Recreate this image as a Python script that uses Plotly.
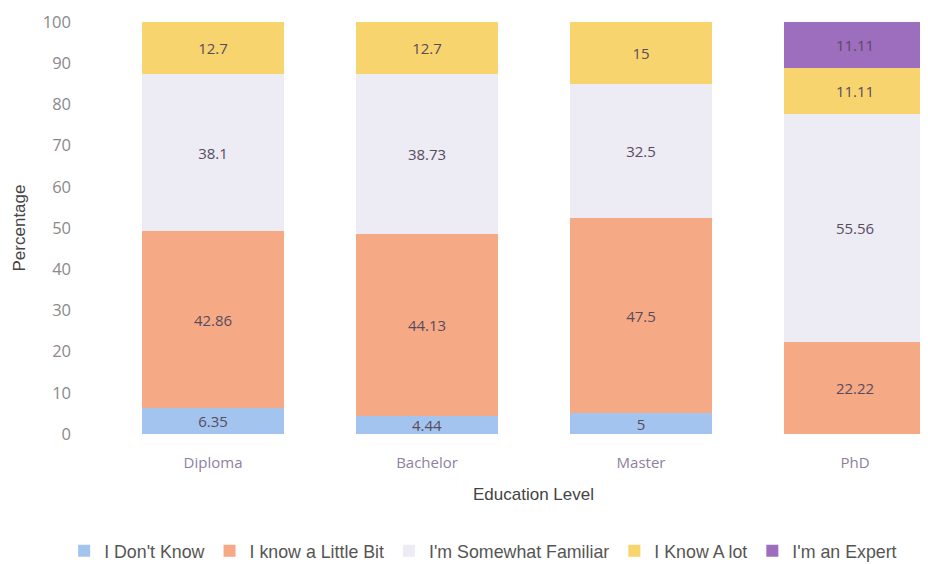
import plotly.graph_objects as go

# Datos
niveles = ['Diploma', 'Bachelor', 'Master', 'PhD']
no_sabe = [6.35, 4.44, 5, None]
un_poco = [42.86, 44.13, 47.5, 22.22]
familiar = [38.1, 38.73, 32.5, 55.56]
mucho = [12.7, 12.7, 15, 11.11]
experto = [None, None, None, 11.11]

series = [
    ("I Don't Know", no_sabe, '#A2C4EE'),
    ('I know a Little Bit', un_poco, '#F6A985'),
    ("I'm Somewhat Familiar", familiar, '#EDEBF4'),
    ('I Know A lot', mucho, '#F8D46E'),
    ("I'm an Expert", experto, '#9D6DBE'),
]

fig = go.Figure()

for nombre, valores, color in series:
    fig.add_trace(go.Bar(
        x=niveles, y=valores, name=nombre,
        marker=dict(color=color, line=dict(width=0)),
        width=0.665,
        text=[('' if v is None else f'{v:g}') for v in valores],
        textposition='inside', insidetextanchor='middle',
        textfont=dict(family='Open Sans, Arial', size=15, color='#574C5E'),
        textangle=0,
    ))

# el body de la página añade 8px de margen, se compensa aquí
fig.update_layout(
    barmode='stack',
    width=928, height=564,
    margin=dict(l=82, r=8, t=14, b=138, autoexpand=False),
    plot_bgcolor='white', paper_bgcolor='white',
    font=dict(family='Arial', color='#555555'),
    uniformtext=dict(minsize=15, mode='show'),
    legend=dict(
        orientation='h', xref='container', yref='container',
        x=0.512, y=0.037, xanchor='center', yanchor='middle',
        font=dict(family='Liberation Sans, Arial', size=17.8, color='#555555'),
        traceorder='normal', itemwidth=30,
    ),
    showlegend=True,
)

# título del eje x como anotación (está algo desplazado a la derecha)
fig.add_annotation(
    text='Education Level', xref='paper', yref='paper',
    x=0.529, y=-0.146, xanchor='center', yanchor='middle', showarrow=False,
    font=dict(family='Arial', size=17, color='#444444'),
)

fig.update_xaxes(
    range=[-0.575, 3.341],
    showline=False, showgrid=False, ticks='',
    ticklabelstandoff=18,
    tickfont=dict(family='Open Sans, Arial', size=15, color='#8E7F9E'),
)

fig.update_yaxes(
    range=[0, 100], dtick=10,
    showline=False, showgrid=False, zeroline=False, ticks='',
    ticklabelstandoff=18,
    tickfont=dict(family='Open Sans, Arial', size=16.5, color='#8A8A8A'),
    title=dict(text='Percentage', font=dict(family='Arial', size=17, color='#444444'), standoff=12),
)

fig.write_html('out.html')
